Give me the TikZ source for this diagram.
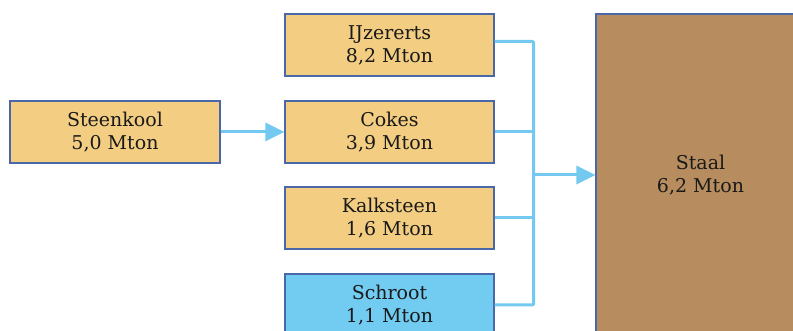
\documentclass[tikz,border=0pt]{standalone}
\usepackage{fontspec}
\setmainfont{DejaVu Serif}
\usetikzlibrary{arrows.meta}
\definecolor{boxorange}{HTML}{F3CE82}
\definecolor{boxblue}{HTML}{72CBF0}
\definecolor{steel}{HTML}{B78C5E}
\definecolor{edgeblue}{HTML}{4A68A8}
\definecolor{flow}{HTML}{74C9F0}
\tikzset{
  box/.style={draw=edgeblue, line width=1.2pt, minimum width=209pt, minimum height=62pt, inner sep=0pt, align=center, font=\fontsize{19}{23}\selectfont, text=black!90},
  flowline/.style={draw=flow, line width=3pt},
  flowarrow/.style={flowline, -{Triangle[length=19pt,width=18pt]}},
}
\begin{document}
\begin{tikzpicture}[x=1pt,y=-1pt]
\useasboundingbox (0,0) rectangle (793,331);
\clip (0,0) rectangle (793,331);
\node[box, fill=boxorange, minimum width=210pt] (sk) at (115,132) {Steenkool\\5,0 Mton};
\node[box, fill=boxorange] (ij) at (389.5,45) {IJzererts\\8,2 Mton};
\node[box, fill=boxorange] (ck) at (389.5,132) {Cokes\\3,9 Mton};
\node[box, fill=boxorange] (ks) at (389.5,218) {Kalksteen\\1,6 Mton};
\node[box, fill=boxblue] (sc) at (389.5,305) {Schroot\\1,1 Mton};
\node[box, fill=steel, minimum height=322pt] (st) at (700.5,175) {Staal\\6,2 Mton};
\coordinate (bt) at (533.5,41.5);
\coordinate (bb) at (533.5,305);
\coordinate (bm) at (533.5,175);
\draw[flowarrow] (sk.east) -- (ck.west);
\draw[flowline, rounded corners=1pt] ([yshift=3.5pt]ij.east) -- (bt) -- (bb) -- (sc.east);
\draw[flowline] (ck.east) -- (ck.east -| bt);
\draw[flowline] (ks.east) -- (ks.east -| bt);
\draw[flowarrow] (bm) -- (st.west |- bm);
\end{tikzpicture}
\end{document}
